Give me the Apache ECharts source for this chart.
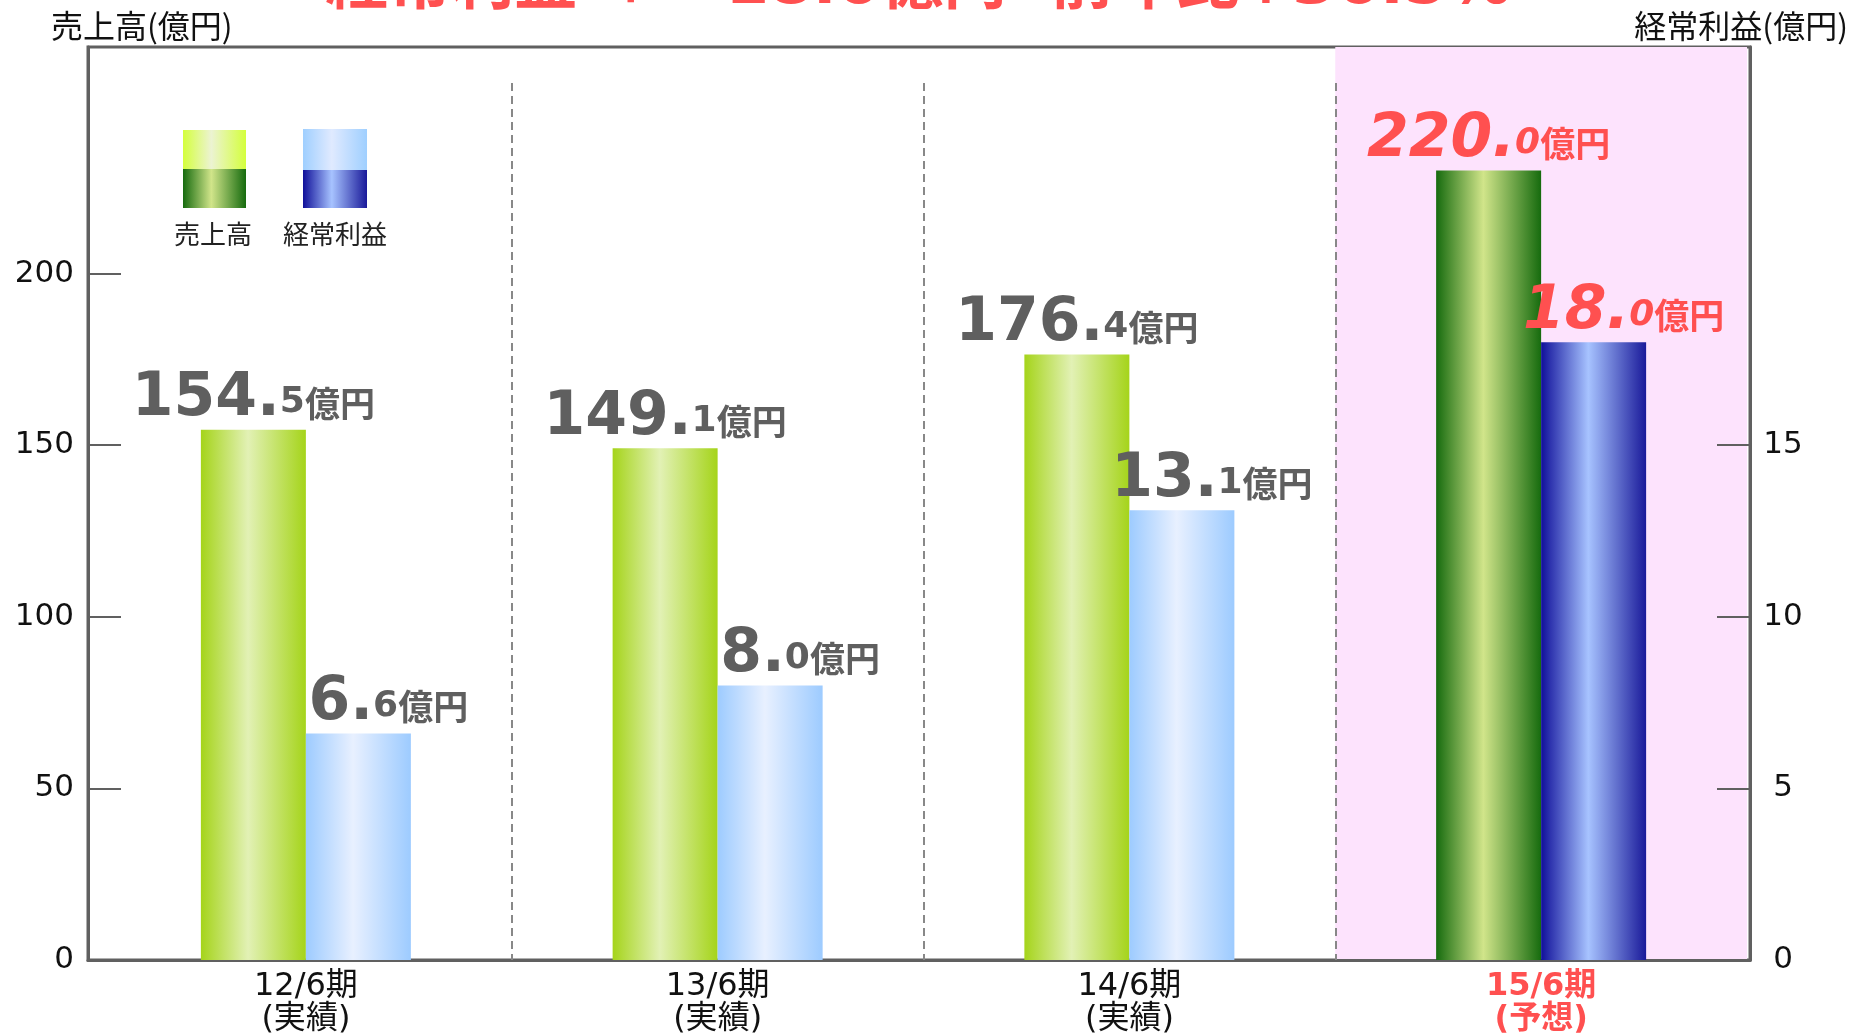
<!DOCTYPE html>
<html>
<head>
<meta charset="utf-8">
<script src="https://cdn.jsdelivr.net/npm/echarts@6/dist/echarts.min.js"></script>
<style>
  html, body { margin: 0; padding: 0; background: #fff; }
  #chart { width: 1852px; height: 1036px; }
</style>
</head>
<body>
<div id="chart"></div>
<script>
  // 期と実績/予想
  const categories = ['12/6期', '13/6期', '14/6期', '15/6期'];
  const periodTypes = ['(実績)', '(実績)', '(実績)', '(予想)'];
  // 売上高・経常利益 (億円) 棒の高さ
  const sales = [154.5, 149.1, 176.4, 230.0];
  const profit = [6.6, 8.0, 13.1, 18.0];
  // 棒の上に書かれている数値
  const salesLabels = ['154.5', '149.1', '176.4', '220.0'];
  const profitLabels = ['6.6', '8.0', '13.1', '18.0'];
  const forecastIndex = 3;
  // 目盛
  const salesTicks = [0, 50, 100, 150, 200];
  const profitTicks = [0, 5, 10, 15];
  const salesMax = 266;
  const profitMax = 26.6;

  const FONT = "'DejaVu Sans', 'Noto Sans CJK JP', sans-serif";
  const CJK = "'Noto Sans CJK JP', sans-serif";
  const GRAY = '#5f5f5f';
  const RED = '#ff5050';
  const AXIS = '#606060';

  function grad(edge, mid, edge2) {
    return new echarts.graphic.LinearGradient(0, 0, 1, 0, [
      { offset: 0, color: edge },
      { offset: 0.45, color: mid },
      { offset: 1, color: edge2 || edge }
    ]);
  }

  const salesActual = grad('#a5d41a', '#e2f1b5');
  const salesForecast = grad('#166b0e', '#d1e58a');
  const profitActual = grad('#9dcbff', '#e8f0ff');
  const profitForecast = grad('#10109a', '#a7c3ff', '#1a1a9a');

  function labelRich(color, italic) {
    const st = italic ? 'italic' : 'normal';
    return {
      big: { fontSize: 60, fontWeight: 'bold', fontStyle: st, fontFamily: "'DejaVu Sans'", color: color, verticalAlign: 'bottom' },
      small: { fontSize: 36, fontWeight: 'bold', fontStyle: st, fontFamily: "'DejaVu Sans'", color: color, verticalAlign: 'bottom', padding: [0, 0, 9, 0] },
      unit: { fontSize: 35, fontWeight: 'bold', fontFamily: CJK, color: color, verticalAlign: 'bottom', padding: [0, 0, 9, 0] }
    };
  }
  function labelText(s) {
    const p = s.split('.');
    return '{big|' + p[0] + '.}{small|' + p[1] + '}{unit|億円}';
  }

  const myChart = echarts.init(document.getElementById('chart'));

  // grid 0: 枠と目盛, grid 1: 点線, grid 2: 棒
  const barGrid = { left: 100, right: 105, top: 47, bottom: 76 };

  myChart.setOption({
    animation: false,
    grid: [
      { left: 88, right: 102, top: 47, bottom: 76, show: true, borderColor: AXIS, borderWidth: 3 },
      { left: barGrid.left, right: barGrid.right, top: 83, bottom: 76 },
      barGrid
    ],
    xAxis: [
      {
        type: 'category',
        gridIndex: 0,
        data: categories,
        axisLine: { lineStyle: { color: AXIS, width: 3 } },
        axisTick: { show: false },
        axisLabel: { show: false }
      },
      {
        // 区切りの点線
        type: 'category',
        gridIndex: 1,
        z: 1,
        data: categories,
        axisLine: { show: false },
        axisTick: { show: false },
        axisLabel: { show: false },
        splitLine: {
          show: true,
          interval: 0,
          showMinLine: false,
          showMaxLine: false,
          lineStyle: { color: '#888', width: 2, type: [8, 5] }
        }
      },
      {
        type: 'category',
        gridIndex: 2,
        z: 0,
        data: categories.map((c, i) => ({
          value: c + '\n' + periodTypes[i],
          textStyle: i === forecastIndex ? { color: RED, fontWeight: 'bold' } : {}
        })),
        axisLine: { show: false },
        axisTick: { show: false },
        axisLabel: { interval: 0, fontFamily: FONT, fontSize: 32, lineHeight: 33, color: '#111', margin: 10 },
        splitArea: {
          show: true,
          interval: 0,
          areaStyle: { color: ['rgba(0,0,0,0)', 'rgba(0,0,0,0)', 'rgba(0,0,0,0)', '#fde3fd'] }
        }
      }
    ],
    yAxis: [
      {
        type: 'value',
        gridIndex: 0,
        position: 'left',
        min: 0,
        max: salesMax,
        axisLine: { show: true, lineStyle: { color: AXIS, width: 3 } },
        axisTick: { show: true, inside: true, length: 33, customValues: salesTicks, lineStyle: { color: AXIS, width: 2 } },
        axisLabel: { customValues: salesTicks, fontFamily: FONT, fontSize: 31, color: '#111', margin: 14 },
        splitLine: { show: false }
      },
      {
        type: 'value',
        gridIndex: 0,
        position: 'right',
        min: 0,
        max: profitMax,
        axisLine: { show: true, lineStyle: { color: AXIS, width: 3 } },
        axisTick: { show: true, inside: true, length: 33, customValues: profitTicks, lineStyle: { color: AXIS, width: 2 } },
        axisLabel: { customValues: profitTicks, fontFamily: FONT, fontSize: 31, color: '#111', margin: 33, align: 'center' },
        splitLine: { show: false }
      },
      { type: 'value', gridIndex: 1, show: false },
      { type: 'value', gridIndex: 2, show: false, min: 0, max: salesMax },
      { type: 'value', gridIndex: 2, show: false, min: 0, max: profitMax }
    ],
    graphic: [
      {
        type: 'text', x: 918, y: -13, silent: true,
        style: { text: '経常利益 ＋\u300018.0億円  前年比+36.5%', fill: RED, font: 'bold 63px ' + FONT, align: 'center', verticalAlign: 'middle' }
      },
      {
        type: 'text', x: 51, y: 26,
        style: { text: '売上高(億円)', fill: '#111', font: '32px ' + CJK, align: 'left', verticalAlign: 'middle' }
      },
      {
        type: 'text', x: 1848, y: 26,
        style: { text: '経常利益(億円)', fill: '#111', font: '32px ' + CJK, align: 'right', verticalAlign: 'middle' }
      },
      // 凡例
      { type: 'rect', shape: { x: 183, y: 130, width: 63, height: 39 }, style: { fill: grad('#d4ff3c', '#ecf3d2') } },
      { type: 'rect', shape: { x: 183, y: 169, width: 63, height: 39 }, style: { fill: salesForecast } },
      { type: 'rect', shape: { x: 303, y: 129, width: 64, height: 41 }, style: { fill: grad('#9fcfff', '#e0eaff') } },
      { type: 'rect', shape: { x: 303, y: 170, width: 64, height: 38 }, style: { fill: profitForecast } },
      {
        type: 'text', x: 213, y: 234,
        style: { text: '売上高', fill: '#222', font: '26px ' + CJK, align: 'center', verticalAlign: 'middle' }
      },
      {
        type: 'text', x: 335, y: 234,
        style: { text: '経常利益', fill: '#222', font: '26px ' + CJK, align: 'center', verticalAlign: 'middle' }
      }
    ],
    series: [
      {
        name: '売上高',
        type: 'bar',
        xAxisIndex: 2,
        yAxisIndex: 3,
        barWidth: 105,
        barGap: '0%',
        label: { show: true, position: 'top', distance: 0, formatter: p => labelText(salesLabels[p.dataIndex]), rich: labelRich(GRAY, false) },
        data: sales.map((v, i) => {
          const f = i === forecastIndex;
          const item = { value: v, itemStyle: { color: f ? salesForecast : salesActual } };
          if (f) item.label = { rich: labelRich(RED, true) };
          return item;
        })
      },
      {
        name: '経常利益',
        type: 'bar',
        xAxisIndex: 2,
        yAxisIndex: 4,
        barWidth: 105,
        barGap: '0%',
        label: { show: true, position: 'top', distance: 0, offset: [30, 0], formatter: p => labelText(profitLabels[p.dataIndex]), rich: labelRich(GRAY, false) },
        data: profit.map((v, i) => {
          const f = i === forecastIndex;
          const item = { value: v, itemStyle: { color: f ? profitForecast : profitActual } };
          if (f) item.label = { rich: labelRich(RED, true) };
          return item;
        })
      }
    ]
  });
</script>
</body>
</html>
